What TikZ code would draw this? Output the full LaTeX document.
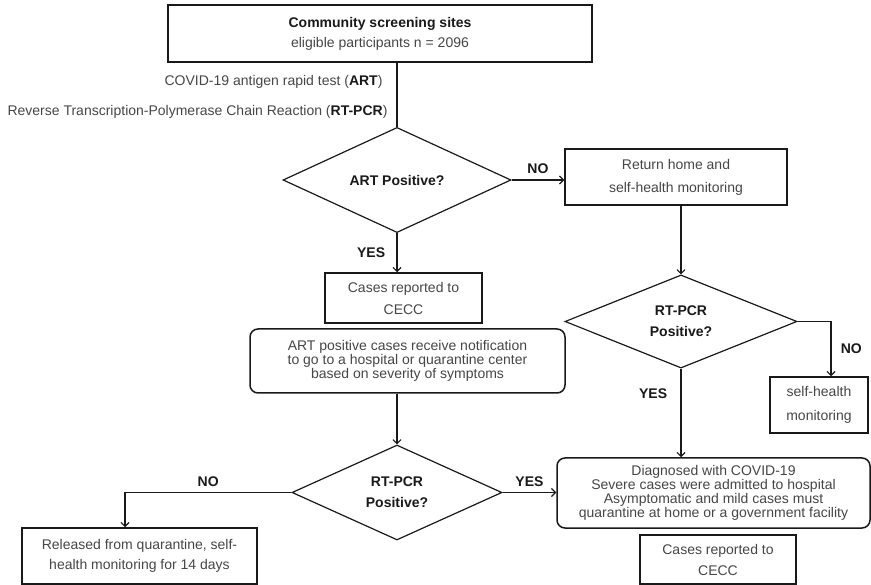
\documentclass[tikz,border=0pt]{standalone}
\usepackage{fontspec}
\setmainfont{Liberation Sans}
\usetikzlibrary{shapes.geometric, arrows.meta, positioning, calc}
\definecolor{mytext}{RGB}{70,70,70}
\definecolor{mydark}{RGB}{25,25,25}
\tikzset{
  block/.style={rectangle, draw=mydark, fill=white, align=center,
    text=mytext, font=\fontsize{14}{21}\selectfont, line width=1.5pt, inner sep=2pt},
  roundblock/.style={block, rounded corners=8pt, font=\fontsize{14}{13}\selectfont},
  decision/.style={diamond, draw=mydark, fill=white, align=center,
    font=\bfseries\fontsize{14}{21}\selectfont, text=mydark, line width=1.2pt, inner sep=0pt},
  arrow/.style={-{Straight Barb[length=4pt,width=8pt]}, line width=1.1pt, color=mydark},
  line/.style={line width=1.1pt, color=mydark},
  lab/.style={font=\bfseries\fontsize{14}{16}\selectfont, text=mydark},
  note/.style={font=\fontsize{14}{16}\selectfont, text=mytext, anchor=east}
}

\begin{document}
\begin{tikzpicture}[x=1pt, y=-1pt]
  \useasboundingbox (0,0) rectangle (871,585);

  % Screening and first test
  \node[block, minimum width=424pt, minimum height=57pt, font=\fontsize{14}{20}\selectfont] (sites) at (380,33.5)
    {\textcolor{mydark}{\textbf{Community screening sites}}\\eligible participants n = 2096};
  \node[note] (artnote) at (386,82) {COVID-19 antigen rapid test (\textcolor{mydark}{\textbf{ART}})};
  \node[note] (pcrnote) at (391,112) {Reverse Transcription-Polymerase Chain Reaction (\textcolor{mydark}{\textbf{RT-PCR}})};
  \node[decision, minimum width=228pt, minimum height=85pt] (artq) at (397,180) {ART Positive?};

  % ART negative branch
  \node[block, minimum width=222pt, minimum height=56pt, font=\fontsize{14}{23}\selectfont] (home) at (676,177)
    {Return home and\\self-health monitoring};
  \node[decision, minimum width=232pt, minimum height=93pt] (pcrq1) at (681,321.5) {RT-PCR\\Positive?};
  \node[block, minimum width=98pt, minimum height=56pt, font=\fontsize{14}{24}\selectfont] (selfmon) at (819,405)
    {self-health\\monitoring};
  \node[roundblock, minimum width=313pt, minimum height=70pt, font=\fontsize{14}{12.6}\selectfont] (diag) at (713.5,493)
    {Diagnosed with COVID-19\\Severe cases were admitted to hospital\\Asymptomatic and mild cases must\\quarantine at home or a government facility};
  \node[block, minimum width=156pt, minimum height=49pt] (report2) at (718,559.5) {Cases reported to\\CECC};

  % ART positive branch
  \node[block, minimum width=157pt, minimum height=50pt, font=\fontsize{14}{22}\selectfont] (report1) at (403.5,298) {Cases reported to\\CECC};
  \node[roundblock, minimum width=315pt, minimum height=64pt] (notify) at (407.5,361)
    {ART positive cases receive notification\\to go to a hospital or quarantine center\\based on severity of symptoms};
  \node[decision, minimum width=210pt, minimum height=95pt] (pcrq2) at (397,492.5) {RT-PCR\\Positive?};
  \node[block, minimum width=235pt, minimum height=56pt, font=\fontsize{14}{20}\selectfont] (release) at (139.5,556)
    {Released from quarantine, self-\\health monitoring for 14 days};

  % Connectors
  \draw[line] (artq.north |- sites.south) -- (artq.north);
  \draw[arrow] (artq.east) -- (artq.east -| home.west) node[lab, midway, above=2pt] {NO};
  \draw[arrow] (artq.south) -- (artq.south |- report1.north) node[lab, midway, left=8pt] {YES};
  \draw[arrow] (home.south -| pcrq1.north) -- (pcrq1.north);
  \draw[arrow] (pcrq1.east) -| ($(selfmon.north)+(12,0)$) node[lab, pos=0.75, right=6pt] {NO};
  \draw[arrow] (pcrq1.south) -- (pcrq1.south |- diag.north) node[lab, pos=0.28, left=10pt] {YES};
  \draw[arrow] (notify.south -| pcrq2.north) -- (pcrq2.north);
  \draw[arrow] (pcrq2.east) -- (pcrq2.east -| diag.west) node[lab, midway, above=2pt] {YES};
  \draw[arrow] (pcrq2.west) -| ($(release.north)+(-14.5,0)$) node[lab, pos=0.25, above=2pt] {NO};
\end{tikzpicture}
\end{document}
